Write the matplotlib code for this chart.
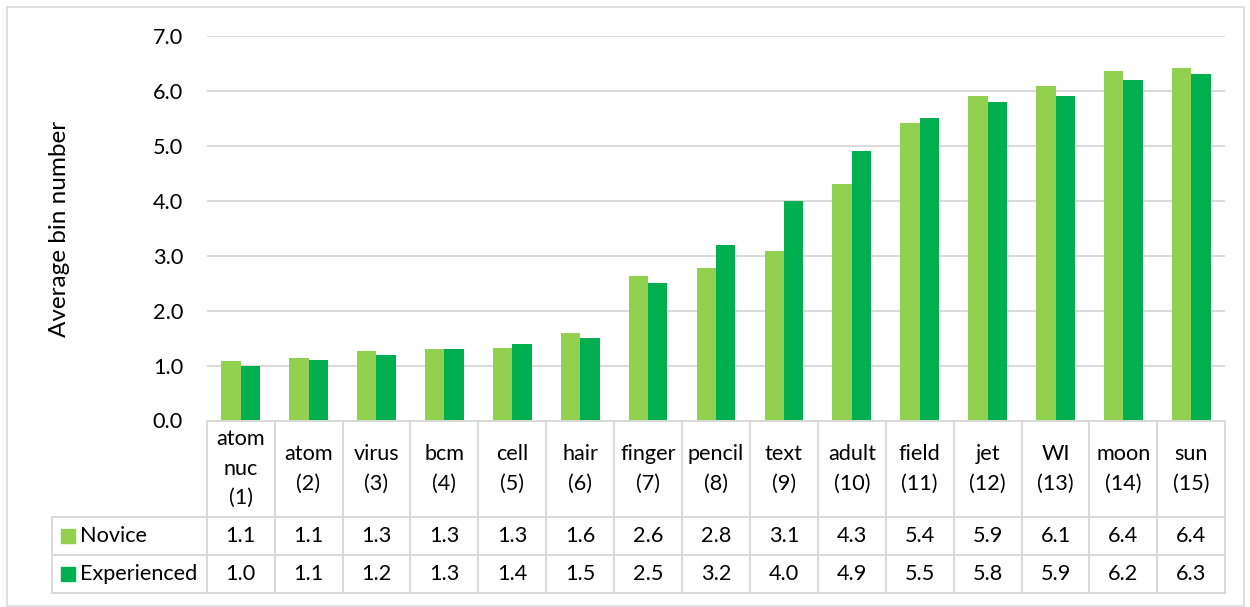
import numpy as np
import matplotlib
matplotlib.use("Agg")
import matplotlib.pyplot as plt
from matplotlib.patches import Rectangle

plt.rcParams['font.family'] = ['Lato', 'DejaVu Sans']

# data
categories = ["atom\nnuc\n(1)", "atom\n(2)", "virus\n(3)", "bcm\n(4)", "cell\n(5)", "hair\n(6)",
              "finger\n(7)", "pencil\n(8)", "text\n(9)", "adult\n(10)", "field\n(11)", "jet\n(12)",
              "WI\n(13)", "moon\n(14)", "sun\n(15)"]
novice = [1.08, 1.13, 1.26, 1.31, 1.32, 1.59, 2.63, 2.77, 3.08, 4.31, 5.41, 5.91, 6.09, 6.36, 6.41]
experienced = [1.0, 1.1, 1.2, 1.3, 1.4, 1.5, 2.5, 3.2, 4.0, 4.9, 5.5, 5.8, 5.9, 6.2, 6.3]
series_names = ["Novice", "Experienced"]
yticks = [0, 1, 2, 3, 4, 5, 6, 7]

c_nov = '#92D050'
c_exp = '#00B050'
grid_c = '#D9D9D9'
fs = 15.6

W, H = 1250, 607
fig = plt.figure(figsize=(12.5, 6.07), dpi=100)

# pixel layout
x0, x1 = 206.7, 1225.3
y_top, y_zero = 36.0, 420.5
row_lines = [516.7, 555.3, 593.3]
leg_left = 52.3

ax = fig.add_axes([x0 / W, 1 - y_zero / H, (x1 - x0) / W, (y_zero - y_top) / H])
x = np.arange(len(categories))
bw = 0.285
ax.bar(x - bw / 2, novice, bw, color=c_nov, zorder=3)
ax.bar(x + bw / 2, experienced, bw, color=c_exp, zorder=3)
ax.set_xlim(-0.5, len(categories) - 0.5)
ax.set_ylim(0, 7)
ax.set_yticks(yticks)
ax.set_yticklabels([f"{v:.1f}" for v in yticks], fontsize=fs)
ax.tick_params(axis='y', length=0, pad=17)
ax.set_xticks([])
for v in yticks[1:]:
    ax.axhline(v, color=grid_c, lw=1.4, zorder=1)
for s in ax.spines.values():
    s.set_visible(False)
fig.text(60 / W, 1 - 229 / H, "Average bin number", rotation=90, ha='center', va='center', fontsize=17.5)

# data table
tx = fig.add_axes([x0 / W, 1 - row_lines[-1] / H, (x1 - x0) / W, (row_lines[-1] - y_zero) / H])
tx.set_xlim(-0.5, len(categories) - 0.5)
tx.set_ylim(row_lines[-1], y_zero)
tx.axis('off')
lx = -0.5 - (x0 - leg_left) / ((x1 - x0) / len(categories))

tx.plot([-0.5, len(categories) - 0.5], [y_zero, y_zero], color=grid_c, lw=1.4, clip_on=False)
for yl in row_lines:
    tx.plot([lx, len(categories) - 0.5], [yl, yl], color=grid_c, lw=1.4, clip_on=False)
for i in range(len(categories) + 1):
    tx.plot([i - 0.5, i - 0.5], [y_zero, row_lines[-1]], color=grid_c, lw=1.4, clip_on=False)
tx.plot([lx, lx], [row_lines[0], row_lines[-1]], color=grid_c, lw=1.4, clip_on=False)

hdr_c = (y_zero + row_lines[0]) / 2
r1_c = (row_lines[0] + row_lines[1]) / 2
r2_c = (row_lines[1] + row_lines[2]) / 2
for i, lab in enumerate(categories):
    tx.text(i, hdr_c, lab, ha='center', va='center', fontsize=fs, linespacing=1.6)
    tx.text(i, r1_c, f"{novice[i]:.1f}", ha='center', va='center', fontsize=fs)
    tx.text(i, r2_c, f"{experienced[i]:.1f}", ha='center', va='center', fontsize=fs)

for name, col, yc in zip(series_names, [c_nov, c_exp], [r1_c, r2_c]):
    fig.patches.append(Rectangle((61 / W, 1 - (yc + 7) / H), 14 / W, 14 / H,
                                 transform=fig.transFigure, color=col, figure=fig))
    fig.text(80.5 / W, 1 - yc / H, name, ha='left', va='center', fontsize=fs)

# outer border
fig.patches.append(Rectangle((6.5 / W, 1 - 606 / H), (1243.5 - 6.5) / W, (606 - 6.5) / H,
                             transform=fig.transFigure, fill=False, edgecolor=grid_c, lw=1.2, figure=fig))

fig.savefig("out.png", dpi=100)
